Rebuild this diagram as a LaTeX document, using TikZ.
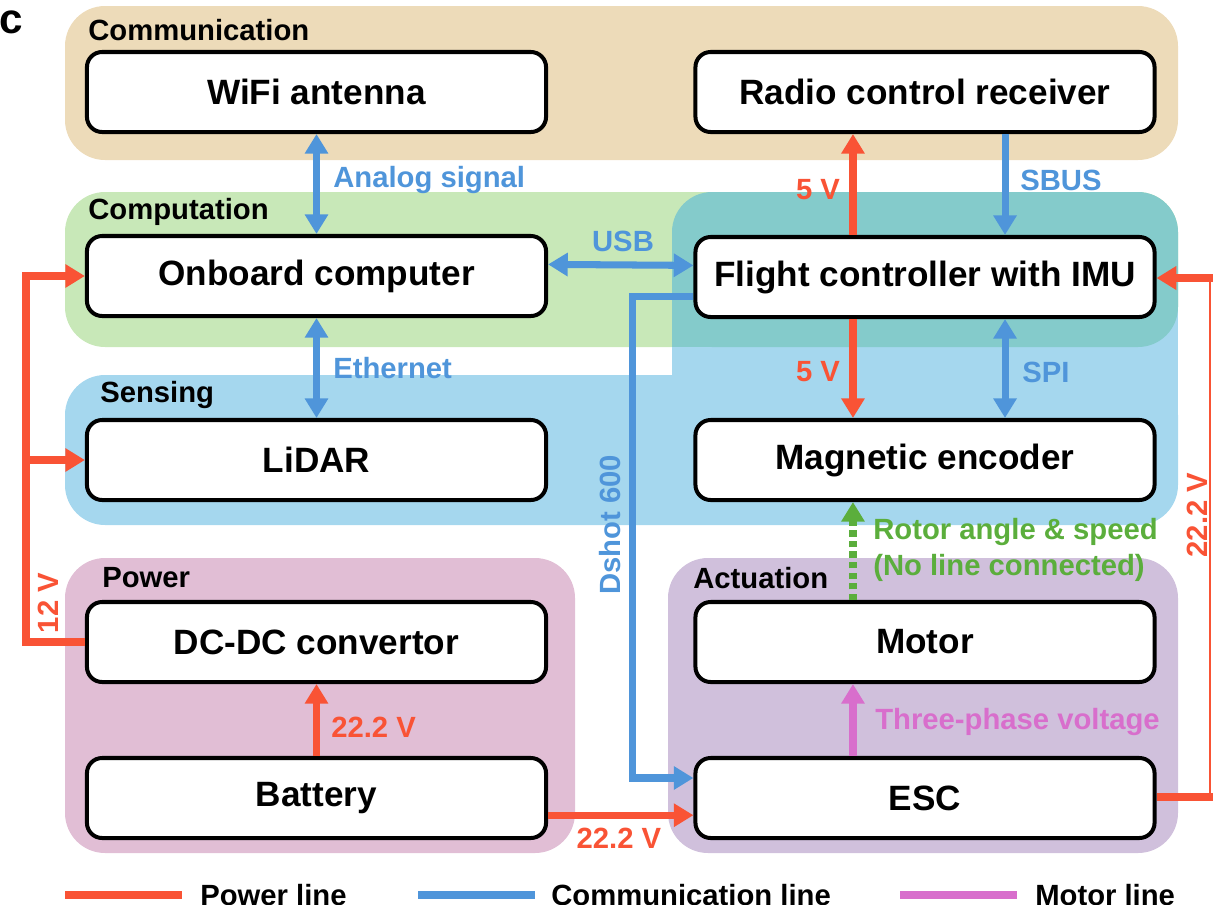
\documentclass[tikz,border=0pt]{standalone}
\usepackage{fontspec}
\setmainfont{Liberation Sans}
\usetikzlibrary{arrows.meta}
\definecolor{commbg}{HTML}{EDDBB9}
\definecolor{compbg}{HTML}{C8E8B8}
\definecolor{sensbg}{HTML}{A5D7EE}
\definecolor{tealbg}{HTML}{84CBCB}
\definecolor{powbg}{HTML}{E1BED5}
\definecolor{actbg}{HTML}{D0C0DC}
\definecolor{pred}{HTML}{F95335}
\definecolor{cblue}{HTML}{4F95DA}
\definecolor{mpink}{HTML}{D86ECC}
\definecolor{rgreen}{HTML}{5BAE3C}
\tikzset{
  boxnode/.style={draw=black, line width=2.85pt, rounded corners=0.38cm, fill=white,
    minimum width=11.475cm, minimum height=2cm, inner sep=0,
    font=\fontsize{25}{30}\selectfont\bfseries},
  grplabel/.style={anchor=west, inner sep=0, font=\fontsize{20.8}{25}\selectfont\bfseries},
  lbl/.style={inner sep=0, font=\fontsize{20.8}{25.6}\selectfont\bfseries},
  tip/.tip={Triangle[length=14pt,width=16pt]},
  pwline/.style={draw=pred, line width=5pt, line join=miter},
  cmline/.style={draw=cblue, line width=5pt, line join=miter},
  regionfill/.style={rounded corners=1cm}
}
\begin{document}
\begin{tikzpicture}[x=0.025cm,y=-0.025cm]
\useasboundingbox (0,0) rectangle (1213,904);
% regions
\fill[commbg, regionfill] (65,6) rectangle (1178,160);
\fill[compbg, regionfill] (65,192) rectangle (1178,347);
\fill[sensbg, regionfill] (65,375) rectangle (1178,525);
\fill[sensbg] (672,250) rectangle (1178,420);
\fill[tealbg, regionfill] (672,192) rectangle (1178,347);
\fill[tealbg] (672,300) rectangle (720,347);
\fill[powbg, regionfill] (65,558) rectangle (575,853);
\fill[actbg, regionfill] (668,558) rectangle (1178,853);
% region labels
\node[inner sep=0, anchor=west, font=\fontsize{30}{36}\selectfont\bfseries] (clabel) at (-1,22) {c};
\node[grplabel] (gcomm) at (88,30) {Communication};
\node[grplabel] (gcomp) at (88,212) {Computation};
\node[grplabel] (gsens) at (100,395) {Sensing};
\node[grplabel] (gpow) at (102,578) {Power};
\node[grplabel] (gact) at (693,578) {Actuation};
% boxes
\node[boxnode] (wifi) at (316.5,92) {WiFi antenna};
\node[boxnode] (radio) at (925,92) {Radio control receiver};
\node[boxnode] (onboard) at (316.5,276) {Onboard computer};
\node[boxnode] (fc) at (925,277) {Flight controller with IMU};
\node[boxnode] (lidar) at (316.5,460) {LiDAR};
\node[boxnode] (enc) at (925,460) {Magnetic encoder};
\node[boxnode] (dcdc) at (316.5,642) {DC-DC convertor};
\node[boxnode] (battery) at (316.5,798) {Battery};
\node[boxnode] (motor) at (925,642) {Motor};
\node[boxnode] (esc) at (925,798) {ESC};
% communication connectors
\draw[cmline, tip-tip] (wifi.south) -- (onboard.north);
\draw[cmline, tip-tip] (onboard.south) -- (lidar.north);
\draw[cmline, tip-tip] ([yshift=0.29cm]onboard.east) -- ([yshift=0.29cm]fc.west);
\draw[cmline, -tip] ([xshift=2cm]radio.south) -- ([xshift=2cm]fc.north);
\draw[cmline, tip-tip] ([xshift=2cm]fc.south) -- ([xshift=2cm]enc.north);
\draw[cmline, -tip] ([yshift=-0.48cm]fc.west) -| ([xshift=-1.525cm,yshift=0.5cm]esc.west) -- ([yshift=0.5cm]esc.west);
% power connectors
\draw[pwline, -tip] ([xshift=-1.8cm]fc.north) -- ([xshift=-1.8cm]radio.south);
\draw[pwline, -tip] ([xshift=-1.8cm]fc.south) -- ([xshift=-1.8cm]enc.north);
\draw[pwline, -tip] (battery.north) -- (dcdc.south);
\draw[pwline, -tip] ([yshift=-0.43cm]battery.east) -- ([yshift=-0.43cm]esc.west);
\coordinate (bus) at (26,642);
\draw[pwline, -tip] (dcdc.west) -- (bus) |- (onboard.west);
\draw[pwline, -tip] (bus |- lidar.west) -- (lidar.west);
\coordinate (rb) at (1210,797);
\coordinate (rt) at (1210,278);
\draw[pwline] (esc.east |- rb) -- ([xshift=2.5pt]rb);
\draw[draw=pred, line width=1.6pt] (rb) -- (rt);
\draw[pwline, -tip] ([xshift=2.5pt]rt) -- (fc.east |- rt);
% motor & sensing
\draw[draw=mpink, line width=5pt, -tip] ([xshift=-1.8cm]esc.north) -- ([xshift=-1.8cm]motor.south);
\draw[draw=rgreen, line width=5pt, dash pattern=on 4.5pt off 3pt, -{Triangle[length=14pt,width=16pt,fill=rgreen]}] ([xshift=-1.8cm]motor.north) -- ([xshift=-1.8cm]enc.south);
% connector labels
\node[lbl, text=cblue, anchor=west] (lanalog) at (333,180) {Analog signal};
\node[lbl, text=cblue] (lusb) at (623,241) {USB};
\node[lbl, text=cblue, anchor=west] (leth) at (333,368) {Ethernet};
\node[lbl, text=cblue, anchor=west] (lsbus) at (1020,180) {SBUS};
\node[lbl, text=cblue, anchor=west] (lspi) at (1022,372) {SPI};
\node[lbl, text=cblue, rotate=90] (ldshot) at (610,525) {Dshot 600};
\node[lbl, text=pred] (l5a) at (818,190) {5 V};
\node[lbl, text=pred] (l5b) at (818,372) {5 V};
\node[lbl, text=pred, anchor=west] (l22a) at (331,727) {22.2 V};
\node[lbl, text=pred] (l22b) at (619,838) {22.2 V};
\node[lbl, text=pred, rotate=90] (l12) at (48,603) {12 V};
\node[lbl, text=pred, rotate=90] (l22c) at (1197,515) {22.2 V};
\node[lbl, text=mpink, anchor=west] (lphase) at (875,722) {Three-phase voltage};
\node[lbl, text=rgreen, anchor=west, align=left] (lrotor) at (873,550) {Rotor angle \& speed\\(No line connected)};
% legend
\draw[draw=pred, line width=5.7pt] (65,895) -- (182,895);
\node[lbl, anchor=base west] (legp) at (200,905) {Power line};
\draw[draw=cblue, line width=5.7pt] (418,895) -- (535,895);
\node[lbl, anchor=base west] (legc) at (551,905) {Communication line};
\draw[draw=mpink, line width=5.7pt] (900,895) -- (1017,895);
\node[lbl, anchor=base west] (legm) at (1035,905) {Motor line};
\end{tikzpicture}
\end{document}
